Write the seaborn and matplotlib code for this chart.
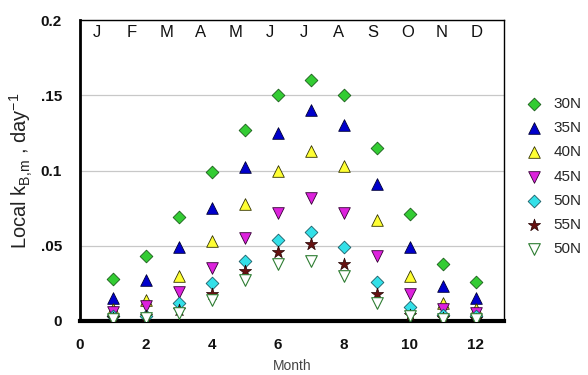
import matplotlib
matplotlib.use("Agg")
import matplotlib.pyplot as plt
import seaborn as sns
import pandas as pd

months = list(range(1, 13))
series = ["30N", "35N", "40N", "45N", "50N", "55N", "50N "]
k_30n = [0.028, 0.043, 0.069, 0.099, 0.127, 0.150, 0.160, 0.150, 0.115, 0.071, 0.038, 0.026]
k_35n = [0.015, 0.027, 0.049, 0.075, 0.102, 0.125, 0.140, 0.130, 0.091, 0.049, 0.023, 0.015]
k_40n = [0.008, 0.014, 0.030, 0.053, 0.078, 0.100, 0.113, 0.103, 0.067, 0.030, 0.012, 0.008]
k_45n = [0.006, 0.010, 0.019, 0.035, 0.055, 0.072, 0.082, 0.072, 0.043, 0.018, 0.008, 0.005]
k_50n = [0.003, 0.003, 0.012, 0.025, 0.040, 0.054, 0.059, 0.049, 0.026, 0.009, 0.004, 0.003]
k_55n = [0.002, 0.003, 0.007, 0.018, 0.033, 0.046, 0.051, 0.038, 0.018, 0.004, 0.002, 0.001]
k_50n_b = [0.001, 0.002, 0.005, 0.014, 0.027, 0.038, 0.040, 0.030, 0.012, 0.003, 0.001, 0.001]
month_letters = ["J", "F", "M", "A", "M", "J", "J", "A", "S", "O", "N", "D"]
y_ticks = [0, 0.05, 0.1, 0.15, 0.2]
y_tick_labels = ["0", ".05", "0.1", ".15", "0.2"]
x_ticks = [0, 2, 4, 6, 8, 10, 12]

values = [k_30n, k_35n, k_40n, k_45n, k_50n, k_55n, k_50n_b]
df = pd.concat(
    [pd.DataFrame({"month": months, "k": v, "lat": s}) for s, v in zip(series, values)],
    ignore_index=True,
)

styles = {
    "30N": dict(marker="D", fc="#33cc33", ec="#1a5c1a", s=42, lw=0.6),
    "35N": dict(marker="^", fc="#0000cc", ec="#000033", s=70, lw=0.6),
    "40N": dict(marker="^", fc="#ffff33", ec="#333300", s=70, lw=0.6),
    "45N": dict(marker="v", fc="#dd22dd", ec="#330033", s=70, lw=0.6),
    "50N": dict(marker="D", fc="#33e0e8", ec="#1a5c66", s=42, lw=0.6),
    "55N": dict(marker="*", fc="#661111", ec="#220000", s=85, lw=0.5),
    "50N ": dict(marker="v", fc="white", ec="#2e7d32", s=70, lw=0.8),
}

sns.set_theme(style="white")
plt.rcParams["font.family"] = ["Liberation Sans", "DejaVu Sans"]
plt.rcParams["mathtext.fontset"] = "custom"
plt.rcParams["mathtext.rm"] = "Liberation Sans"
plt.rcParams["mathtext.it"] = "Liberation Sans"

fig = plt.figure(figsize=(5.88, 3.75), dpi=100)
ax = fig.add_axes([80 / 588, 1 - 321 / 375, 424 / 588, 301 / 375])

for name in series:
    st = styles[name]
    sns.scatterplot(
        data=df[df["lat"] == name], x="month", y="k", ax=ax,
        marker=st["marker"], color=st["fc"], edgecolor=st["ec"],
        s=st["s"], linewidth=st["lw"], label=name.strip(), zorder=3,
    )

ax.set_xlim(0, 12.85)
ax.set_ylim(0, 0.2)
ax.set_xticks(x_ticks)
ax.set_xticklabels([str(t) for t in x_ticks], fontsize=11, fontweight="bold", color="#111111")
ax.set_yticks(y_ticks)
ax.set_yticklabels(y_tick_labels, fontsize=11, fontweight="bold", color="#111111")
ax.tick_params(axis="x", length=0, pad=12)
ax.tick_params(axis="y", length=0, pad=13)
ax.yaxis.grid(True, color="#c8c8c8", linewidth=0.9)
ax.xaxis.grid(False)
for g in ax.get_ygridlines():
    g.set_zorder(0)

for side in ["top", "right"]:
    ax.spines[side].set_color("black")
    ax.spines[side].set_linewidth(1.0)
ax.spines["left"].set_color("black")
ax.spines["left"].set_linewidth(2.0)
ax.spines["bottom"].set_color("black")
ax.spines["bottom"].set_linewidth(3.0)

for i, letter in enumerate(month_letters):
    ax.text(0.52 + i * 1.045, 0.192, letter, ha="center", va="center",
            fontsize=12, color="#111111")

ax.set_xlabel("Month", fontsize=10, color="#444444", labelpad=5)
ax.set_ylabel(r"Local k$_{\mathrm{B{,}m}}$ , day$^{-1}$", fontsize=14.5, color="#222222", labelpad=4)

ax.legend(loc="upper left", bbox_to_anchor=(1.02, 0.765), frameon=False,
          fontsize=11, handletextpad=0.3, labelspacing=0.67, borderaxespad=0,
          markerscale=1.0)

fig.savefig("out.png", dpi=100)
